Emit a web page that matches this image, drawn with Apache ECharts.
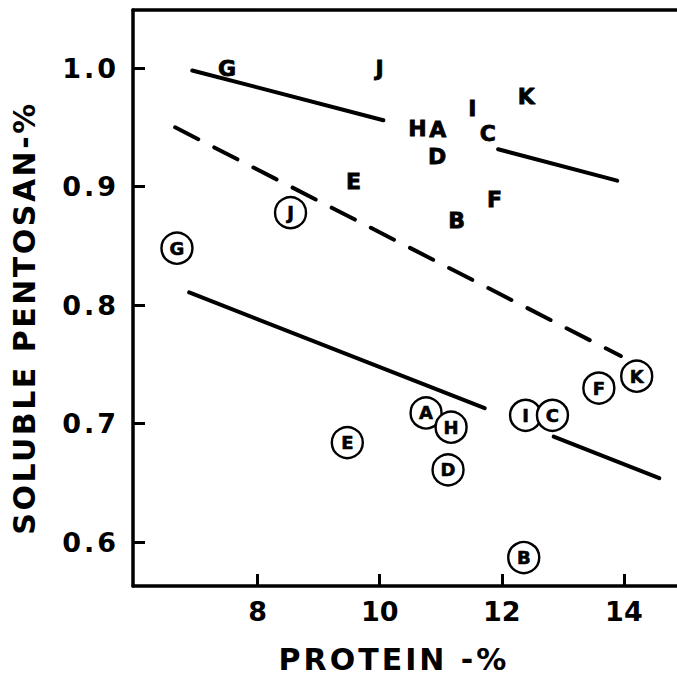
<!DOCTYPE html>
<html><head><meta charset="utf-8">
<script src="https://cdn.jsdelivr.net/npm/echarts@6/dist/echarts.min.js"></script>
<style>html,body{margin:0;padding:0;background:#fff}#c{width:677px;height:679px}</style>
</head><body><div id="c"></div>
<script>
// ---- data ----
const xTicks = [8, 10, 12, 14];
const yTicks = [0.6, 0.7, 0.8, 0.9, 1.0];
const xTitle = 'PROTEIN -%';
const yTitle = 'SOLUBLE PENTOSAN-%';

// plain (uncircled) letters
const plainLetters  = ['G', 'J', 'K', 'I', 'H', 'A', 'C', 'D', 'E', 'F', 'B'];
const plainProtein  = [7.50, 10.00, 12.40, 11.52, 10.62, 10.95, 11.77, 10.94, 9.57, 11.88, 11.26];
const plainPentosan = [1.000, 1.000, 0.976, 0.966, 0.949, 0.948, 0.945, 0.925, 0.904, 0.889, 0.871];

// circled letters
const circLetters  = ['G', 'J', 'E', 'A', 'H', 'D', 'I', 'C', 'B', 'F', 'K'];
const circProtein  = [6.68, 8.54, 9.47, 10.76, 11.17, 11.12, 12.39, 12.83, 12.36, 13.59, 14.21];
const circPentosan = [0.848, 0.878, 0.684, 0.709, 0.697, 0.661, 0.707, 0.707, 0.587, 0.730, 0.740];

// regression lines (segments; solid lines are broken around letters)
const upperSeg1 = [[6.93, 0.998], [10.06, 0.956]];
const upperSeg2 = [[11.94, 0.9315], [13.89, 0.905]];
const dashedSeg = [[6.65, 0.950], [13.95, 0.757]];
const lowerSeg1 = [[6.88, 0.8107], [11.72, 0.713]];
const lowerSeg2 = [[12.85, 0.689], [14.58, 0.654]];

// ---- chart ----
const FONT = 'DejaVu Sans';
const xMin = 5.96, xMax = 14.87, yMin = 0.563, yMax = 1.049;
const chart = echarts.init(document.getElementById('c'), null, {renderer: 'svg'});

function lineSeries(seg, dashed) {
  return {
    type: 'line', data: seg, showSymbol: false, symbol: 'none', z: 2,
    lineStyle: {color: '#000', width: 4, cap: 'round', type: dashed ? [26, 18] : 'solid'},
    silent: true
  };
}

const option = {
  backgroundColor: '#fff',
  animation: false,
  grid: {left: 133, right: 0, top: 10, bottom: 90, containLabel: false},
  xAxis: [{
    type: 'value', min: xMin, max: xMax, position: 'bottom',
    axisLine: {show: true, onZero: false, lineStyle: {color: '#000', width: 3.5}},
    axisTick: {show: true, inside: true, length: 12, customValues: xTicks, lineStyle: {color: '#000', width: 3}},
    axisLabel: {show: true, customValues: xTicks, margin: 12, color: '#000',
      fontFamily: FONT, fontWeight: 'bold', fontSize: 27},
    splitLine: {show: false},
    name: xTitle, nameLocation: 'middle', nameGap: 58,
    nameTextStyle: {color: '#000', fontFamily: FONT, fontWeight: 'bold', fontSize: 30, padding: [0, 22, 0, 0]}
  }, {
    type: 'value', min: xMin, max: xMax, position: 'top',
    axisLine: {show: true, onZero: false, lineStyle: {color: '#000', width: 3.5}},
    axisTick: {show: false}, axisLabel: {show: false}, splitLine: {show: false}
  }],
  yAxis: {
    type: 'value', min: yMin, max: yMax,
    axisLine: {show: true, onZero: false, lineStyle: {color: '#000', width: 3.5}},
    axisTick: {show: true, inside: true, length: 12, customValues: yTicks, lineStyle: {color: '#000', width: 3}},
    axisLabel: {show: true, customValues: yTicks, margin: 14, color: '#000',
      fontFamily: FONT, fontWeight: 'bold', fontSize: 27,
      formatter: v => Number(v).toFixed(1)},
    splitLine: {show: false},
    name: yTitle, nameLocation: 'middle', nameGap: 94,
    nameTextStyle: {color: '#000', fontFamily: FONT, fontWeight: 'bold', fontSize: 30, padding: [0, 40, 0, 0]}
  },
  series: [
    lineSeries(upperSeg1, false),
    lineSeries(upperSeg2, false),
    lineSeries(dashedSeg, true),
    lineSeries(lowerSeg1, false),
    lineSeries(lowerSeg2, false),
    {
      type: 'scatter', z: 3, silent: true,
      data: plainLetters.map((l, i) => ({name: l, value: [plainProtein[i], plainPentosan[i]]})),
      symbol: 'circle', symbolSize: 2,
      itemStyle: {color: '#fff', opacity: 0},
      label: {show: true, position: 'inside', formatter: p => p.name, color: '#000', opacity: 1,
        fontFamily: FONT, fontWeight: 'bold', fontSize: 22,
        textBorderColor: '#000', textBorderWidth: 0.8}
    },
    {
      type: 'scatter', z: 4, silent: true,
      data: circLetters.map((l, i) => ({name: l, value: [circProtein[i], circPentosan[i]]})),
      symbol: 'circle', symbolSize: 31,
      itemStyle: {color: '#fff', borderColor: '#000', borderWidth: 2.4, opacity: 1},
      label: {show: true, position: 'inside', formatter: p => p.name, color: '#000',
        fontFamily: FONT, fontWeight: 'bold', fontSize: 18,
        textBorderColor: '#000', textBorderWidth: 0.6}
    }
  ]
};
chart.setOption(option);

function spaceTexts() {
  document.querySelectorAll('#c svg text').forEach(t => {
    const s = t.textContent;
    if (s === xTitle) t.style.letterSpacing = '3px';
    else if (s === yTitle) t.style.letterSpacing = '2.5px';
    else if (/^\d\.\d$/.test(s)) t.style.letterSpacing = '3px';
  });
}
spaceTexts();
chart.on('finished', spaceTexts);
setTimeout(spaceTexts, 0);
</script>
</body></html>
